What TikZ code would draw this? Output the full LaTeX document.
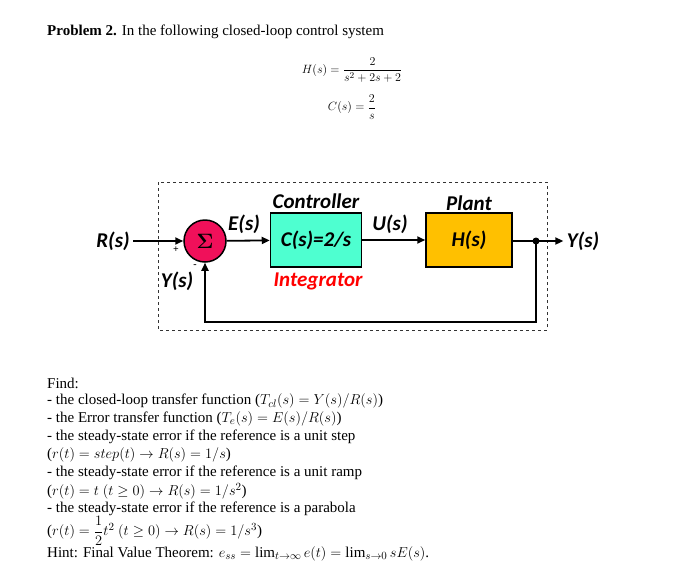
\documentclass[tikz,border=0pt]{standalone}
\usepackage{amsmath,amssymb,bm}
\usepackage{fontspec}
\setmainfont{Liberation Serif}
\newfontfamily\dia{Carlito}
\usetikzlibrary{arrows.meta}
\definecolor{sumc}{HTML}{F0105A}
\definecolor{ctrlc}{HTML}{4EFFD0}
\definecolor{plantc}{HTML}{FFC000}
\begin{document}
\begin{tikzpicture}[x=1pt,y=-1pt,
  lbl/.style={font=\dia\bfseries\itshape\fontsize{21}{21}\selectfont},
  blk/.style={draw,line width=1.5pt,minimum width=91pt,minimum height=54pt,inner sep=0},
  sig/.style={line width=1.8pt,-{Triangle[length=8pt,width=7pt]}},
  txt/.style={anchor=west,font=\fontsize{15}{16}\selectfont,inner sep=0}]
\fill[white] (0,0) rectangle (677,579);
\node[txt] (title) at (47,32) {\textbf{Problem 2.} In the following closed-loop control system};
\node[font=\fontsize{13}{14}\selectfont] (heq) at (352,70) {$H(s)=\dfrac{2}{s^2+2s+2}$};
\node[font=\fontsize{13}{14}\selectfont] (ceq) at (352,107) {$C(s)=\dfrac{2}{s}$};
\draw[dashed,gray!40!black,line width=1pt] (158,182) rectangle (547,330);
\node[circle,draw,fill=sumc,line width=1.5pt,minimum size=42pt,inner sep=0,lbl] (sum) at (205,241) {$\bm\Sigma$};
\node[blk,fill=ctrlc,lbl] (ctrl) at (316,240) {C(s)=2/s};
\node[blk,fill=plantc,minimum width=86pt,lbl] (plant) at (469,240) {H(s)};
\node[lbl] (rs) at (113,241) {R(s)};
\node[lbl] (ys) at (583,241) {Y(s)};
\coordinate (tap) at (536,241);
\coordinate (fb1) at (536,322);
\coordinate (fb2) at (205,322);
\draw[sig] (rs) -- (sum);
\draw[sig] (sum) -- (ctrl);
\draw[sig] (ctrl) -- (plant);
\draw[sig] (plant.east|-tap) -- (ys);
\fill (tap) circle (3.5pt);
\draw[sig] (tap) -- (fb1) -- (fb2) -- (sum);
\node[lbl] (es) at (244,224) {E(s)};
\node[lbl] (us) at (390,224) {U(s)};
\node[lbl] (cl) at (316,201) {Controller};
\node[lbl] (pl) at (469,203) {Plant};
\node[lbl,text=red] (ig) at (318,281) {Integrator};
\node[lbl] (yf) at (177,281) {Y(s)};
\node[font=\bfseries\fontsize{10}{10}\selectfont] (plus) at (176,250) {+};
\node[font=\bfseries\fontsize{10}{10}\selectfont] (minus) at (195,266) {-};
\node[txt] (l1) at (47,383) {Find:};
\node[txt] (l2) at (47,401) {- the closed-loop transfer function ($T_{cl}(s)=Y(s)/R(s)$)};
\node[txt] (l3) at (47,419) {- the Error transfer function ($T_e(s)=E(s)/R(s)$)};
\node[txt] (l4) at (47,437) {- the steady-state error if the reference is a unit step};
\node[txt] (l5) at (47,455) {($r(t)=step(t)\rightarrow R(s)=1/s$)};
\node[txt] (l6) at (47,473) {- the steady-state error if the reference is a unit ramp};
\node[txt] (l7) at (47,491) {($r(t)=t\ (t\geq0)\rightarrow R(s)=1/s^2$)};
\node[txt] (l8) at (47,509) {- the steady-state error if the reference is a parabola};
\node[txt] (l9) at (47,531) {($r(t)=\dfrac{1}{2}t^2\ (t\geq0)\rightarrow R(s)=1/s^3$)};
\node[txt] (l10) at (47,554) {Hint: Final Value Theorem: $e_{ss}=\lim_{t\to\infty}e(t)=\lim_{s\to0}sE(s)$.};
\end{tikzpicture}
\end{document}
